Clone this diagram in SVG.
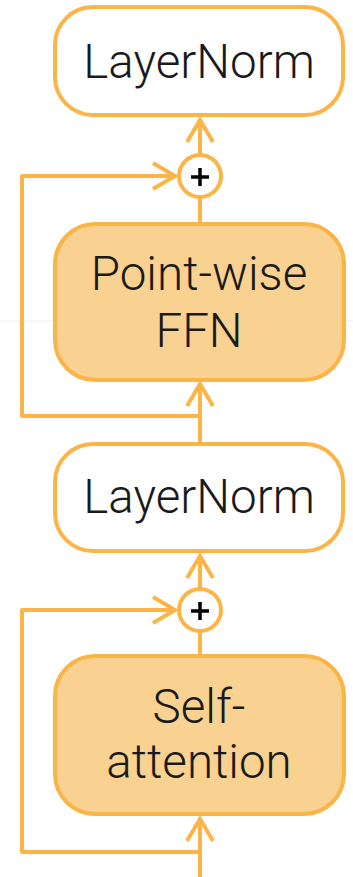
<svg xmlns="http://www.w3.org/2000/svg" width="353" height="877" viewBox="0 0 353 877">
<style>
.box{stroke:#FBB447;stroke-width:4}
.plain{fill:#FFFFFF}
.filled{fill:#F9D190}
.lbl{font-family:Roboto,"Liberation Sans",sans-serif;font-weight:300;font-size:47.5px;fill:#1a1a1a;text-anchor:middle}
.con{fill:none;stroke:#FBB447;stroke-width:4;stroke-linejoin:round}
.sum{fill:#FFFFFF;stroke:#FBB447;stroke-width:4}
.plus{stroke:#000;stroke-width:3.5}
</style>
<defs>
<marker id="ah" markerUnits="userSpaceOnUse" markerWidth="30" markerHeight="30" viewBox="-26 -15 30 30" refX="0" refY="0" orient="auto" overflow="visible">
<path d="M-22,-13 L0,0 L-22,13" fill="none" stroke="#FBB447" stroke-width="4"/>
</marker>
</defs>
<line x1="0" y1="321" x2="353" y2="321" stroke="#EEEEEE" stroke-width="1"/>
<g id="connectors">
<path class="con" d="M200,224 V197"/>
<path class="con" d="M200,155 V120" marker-end="url(#ah)"/>
<path class="con" d="M200,416 H22 V176 H175" marker-end="url(#ah)"/>
<path class="con" d="M200,444 V384" marker-end="url(#ah)"/>
<path class="con" d="M200,589 V556" marker-end="url(#ah)"/>
<path class="con" d="M200,656 V631"/>
<path class="con" d="M200,852 H22 V610 H175" marker-end="url(#ah)"/>
<path class="con" d="M200,877 V819" marker-end="url(#ah)"/>
</g>
<g id="layernorm2">
<rect class="box plain" x="55" y="7" width="288" height="108" rx="38"/>
<text class="lbl" x="199" y="78">LayerNorm</text>
</g>
<g id="add2">
<circle class="sum" cx="200" cy="176" r="21"/>
<path class="plus" d="M191,177 H209 M200,168 V186"/>
</g>
<g id="ffn">
<rect class="box filled" x="55" y="224" width="289" height="156" rx="40"/>
<text class="lbl" x="199" y="290">Point-wise</text>
<text class="lbl" x="199" y="347">FFN</text>
</g>
<g id="layernorm1">
<rect class="box plain" x="55" y="444" width="288" height="107" rx="38"/>
<text class="lbl" x="199" y="513">LayerNorm</text>
</g>
<g id="add1">
<circle class="sum" cx="200" cy="610" r="21"/>
<path class="plus" d="M191,611 H209 M200,602 V620"/>
</g>
<g id="selfattention">
<rect class="box filled" x="55" y="656" width="289" height="158" rx="40"/>
<text class="lbl" x="199" y="723">Self-</text>
<text class="lbl" x="199" y="778">attention</text>
</g>
</svg>
